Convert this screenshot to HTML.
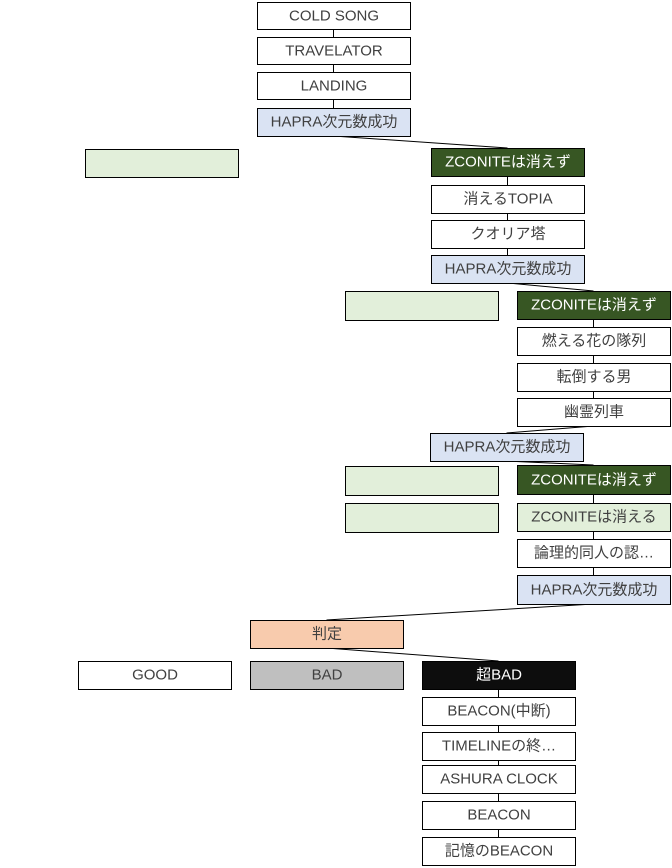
<!DOCTYPE html><html><head><meta charset="utf-8"><style>body{margin:0;background:#fff}svg{display:block}text{font-family:"Liberation Sans","Noto Sans CJK JP",sans-serif;font-size:15px;fill:#404040;stroke:none;text-anchor:middle;dominant-baseline:central}</style></head><body>
<svg width="672" height="868" xmlns="http://www.w3.org/2000/svg">
<g stroke="#000" stroke-width="1" fill="none">
<line x1="333.5" y1="29" x2="333.5" y2="37"/><line x1="333.5" y1="64" x2="333.5" y2="72"/><line x1="333.5" y1="99" x2="333.5" y2="108"/>
<line x1="333.5" y1="136" x2="507.5" y2="148"/>
<line x1="507.5" y1="176" x2="507.5" y2="185"/><line x1="507.5" y1="213" x2="507.5" y2="220"/><line x1="507.5" y1="248" x2="507.5" y2="255"/>
<line x1="507.5" y1="283" x2="593.5" y2="291"/>
<line x1="593.5" y1="319" x2="593.5" y2="327"/><line x1="593.5" y1="355" x2="593.5" y2="363"/><line x1="593.5" y1="391" x2="593.5" y2="398"/>
<line x1="593.5" y1="426" x2="506.5" y2="433"/>
<line x1="506.5" y1="461" x2="593.5" y2="465"/>
<line x1="593.5" y1="494" x2="593.5" y2="503"/><line x1="593.5" y1="531" x2="593.5" y2="539"/><line x1="593.5" y1="567" x2="593.5" y2="575"/>
<line x1="593.5" y1="604" x2="326.5" y2="620"/>
<line x1="326.5" y1="648" x2="498.5" y2="661"/>
<line x1="498.5" y1="689" x2="498.5" y2="697"/><line x1="498.5" y1="725" x2="498.5" y2="732"/><line x1="498.5" y1="760" x2="498.5" y2="765"/><line x1="498.5" y1="793" x2="498.5" y2="801"/><line x1="498.5" y1="829" x2="498.5" y2="837"/>
</g>
<g stroke="#000" stroke-width="1">
<rect x="257.5" y="2.5" width="153" height="27" fill="#fff"/><text x="334" y="16">COLD SONG</text>
<rect x="257.5" y="37.5" width="153" height="27" fill="#fff"/><text x="334" y="51">TRAVELATOR</text>
<rect x="257.5" y="72.5" width="153" height="27" fill="#fff"/><text x="334" y="86">LANDING</text>
<rect x="257.5" y="108.5" width="153" height="28" fill="#dae3f3"/><text x="334" y="122">HAPRA次元数成功</text>
<rect x="85.5" y="149.5" width="153" height="28" fill="#e2efda"/>
<rect x="431.5" y="148.5" width="153" height="28" fill="#375623"/><text x="508" y="162" style="fill:#fff">ZCONITEは消えず</text>
<rect x="431.5" y="185.5" width="153" height="28" fill="#fff"/><text x="508" y="199">消えるTOPIA</text>
<rect x="431.5" y="220.5" width="153" height="28" fill="#fff"/><text x="508" y="234">クオリア塔</text>
<rect x="431.5" y="255.5" width="153" height="28" fill="#dae3f3"/><text x="508" y="269">HAPRA次元数成功</text>
<rect x="345.5" y="291.5" width="153" height="29" fill="#e2efda"/>
<rect x="517.5" y="291.5" width="153" height="28" fill="#375623"/><text x="594" y="305" style="fill:#fff">ZCONITEは消えず</text>
<rect x="517.5" y="327.5" width="153" height="28" fill="#fff"/><text x="594" y="341">燃える花の隊列</text>
<rect x="517.5" y="363.5" width="153" height="28" fill="#fff"/><text x="594" y="377">転倒する男</text>
<rect x="517.5" y="398.5" width="153" height="28" fill="#fff"/><text x="594" y="412">幽霊列車</text>
<rect x="430.5" y="433.5" width="153" height="28" fill="#dae3f3"/><text x="507" y="447">HAPRA次元数成功</text>
<rect x="345.5" y="466.5" width="153" height="29" fill="#e2efda"/>
<rect x="517.5" y="465.5" width="153" height="29" fill="#375623"/><text x="594" y="480" style="fill:#fff">ZCONITEは消えず</text>
<rect x="345.5" y="503.5" width="153" height="29" fill="#e2efda"/>
<rect x="517.5" y="503.5" width="153" height="28" fill="#e2efda"/><text x="594" y="517">ZCONITEは消える</text>
<rect x="517.5" y="539.5" width="153" height="28" fill="#fff"/><text x="594" y="553">論理的同人の認…</text>
<rect x="517.5" y="575.5" width="153" height="29" fill="#dae3f3"/><text x="594" y="590">HAPRA次元数成功</text>
<rect x="250.5" y="620.5" width="153" height="28" fill="#f8cbad"/><text x="327" y="634">判定</text>
<rect x="78.5" y="661.5" width="153" height="28" fill="#fff"/><text x="155" y="675">GOOD</text>
<rect x="250.5" y="661.5" width="153" height="28" fill="#bfbfbf"/><text x="327" y="675">BAD</text>
<rect x="422.5" y="661.5" width="153" height="28" fill="#0d0d0d"/><text x="499" y="675" style="fill:#fff">超BAD</text>
<rect x="422.5" y="697.5" width="153" height="28" fill="#fff"/><text x="499" y="711">BEACON(中断)</text>
<rect x="422.5" y="732.5" width="153" height="28" fill="#fff"/><text x="499" y="746">TIMELINEの終…</text>
<rect x="422.5" y="765.5" width="153" height="28" fill="#fff"/><text x="499" y="779">ASHURA CLOCK</text>
<rect x="422.5" y="801.5" width="153" height="28" fill="#fff"/><text x="499" y="815">BEACON</text>
<rect x="422.5" y="837.5" width="153" height="28" fill="#fff"/><text x="499" y="851">記憶のBEACON</text>
</g>
</svg></body></html>
